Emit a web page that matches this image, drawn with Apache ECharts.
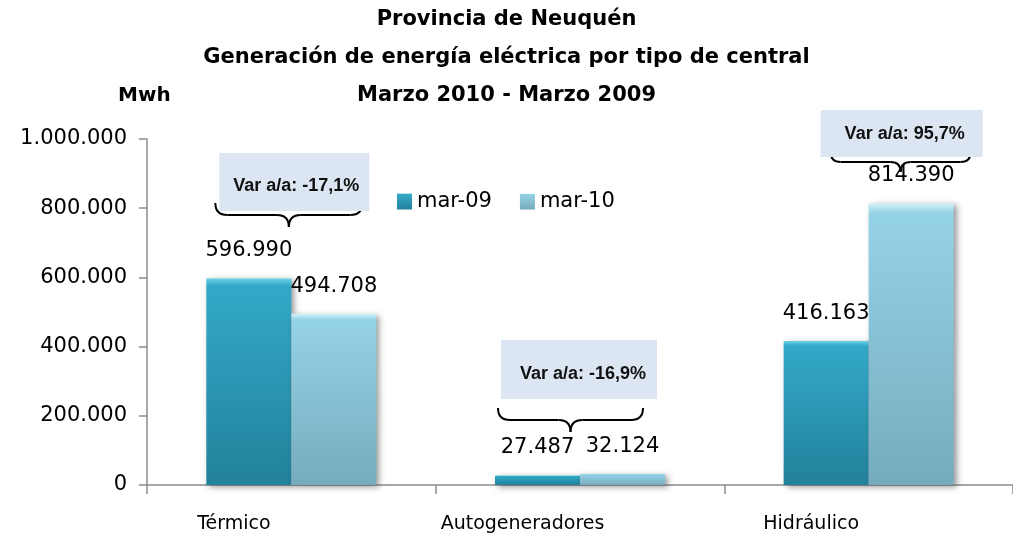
<!DOCTYPE html>
<html>
<head>
<meta charset="utf-8">
<script src="https://cdn.jsdelivr.net/npm/echarts@6/dist/echarts.min.js"></script>
<style>
  html, body { margin: 0; padding: 0; background: #fff; }
  #chart { width: 1013px; height: 537px; }
</style>
</head>
<body>
<div id="chart"></div>
<script>
// datos
const categories = ['Térmico', 'Autogeneradores', 'Hidráulico'];
const seriesNames = ['mar-09', 'mar-10'];
const mar09 = [596990, 27487, 416163];
const mar10 = [494708, 32124, 814390];
const varTexts = ['Var a/a: -17,1%', 'Var a/a: -16,9%', 'Var a/a: 95,7%'];

function fmt(v) {
  return String(v).replace(/\B(?=(\d{3})+(?!\d))/g, '.');
}

const numFont = 'DejaVu Sans';

let chartDom = document.getElementById('chart');
let myChart = echarts.init(chartDom);

let option = {
  animation: false,
  title: [
    {
      text: 'Provincia de Neuquén\nGeneración de energía eléctrica por tipo de central\nMarzo 2010 - Marzo 2009',
      left: 'center',
      top: -4,
      textStyle: {
        fontFamily: 'DejaVu Sans',
        fontWeight: 'bold',
        fontSize: 21,
        lineHeight: 38,
        color: '#000'
      }
    },
    {
      text: 'Mwh',
      left: 113,
      top: 81,
      textStyle: {
        fontFamily: 'DejaVu Sans',
        fontWeight: 'bold',
        fontSize: 20,
        color: '#000'
      }
    }
  ],
  legend: {
    data: seriesNames,
    left: 392,
    top: 186,
    icon: 'rect',
    itemWidth: 15,
    itemHeight: 16,
    itemGap: 28,
    textStyle: { fontFamily: numFont, fontSize: 21, color: '#000' }
  },
  grid: {
    left: 147,
    top: 139,
    width: 873,
    height: 346
  },
  xAxis: {
    type: 'category',
    data: categories,
    axisLine: { lineStyle: { color: '#8c8c8c', width: 1.5 } },
    axisTick: { show: true, length: 9, lineStyle: { color: '#8c8c8c', width: 1.5 } },
    axisLabel: {
      fontFamily: numFont,
      fontSize: 19,
      color: '#000',
      margin: 30,
      padding: [0, 115, 0, 0]
    }
  },
  yAxis: {
    type: 'value',
    min: 0,
    max: 1000000,
    interval: 200000,
    splitLine: { show: false },
    axisLine: { show: true, lineStyle: { color: '#8c8c8c', width: 1.5 } },
    axisTick: { show: true, length: 8, lineStyle: { color: '#8c8c8c', width: 1.5 } },
    axisLabel: {
      fontFamily: numFont,
      fontSize: 21,
      color: '#000',
      margin: 20,
      formatter: fmt
    }
  },
  series: [
    {
      name: seriesNames[0],
      type: 'bar',
      data: mar09,
      barWidth: 85,
      barGap: '0%',
      itemStyle: {
        color: new echarts.graphic.LinearGradient(0, 0, 0, 1, [
          { offset: 0, color: '#6BD3EA' },
          { offset: 0.035, color: '#33A9C8' },
          { offset: 1, color: '#22819B' }
        ]),
        shadowBlur: 6,
        shadowColor: 'rgba(0,0,0,0.4)',
        shadowOffsetX: 3,
        shadowOffsetY: 2
      },
      label: {
        show: true,
        position: 'top',
        distance: 17,
        fontFamily: numFont,
        fontSize: 21,
        color: '#000',
        formatter: (p) => fmt(p.value)
      }
    },
    {
      name: seriesNames[1],
      type: 'bar',
      data: mar10,
      barWidth: 85,
      itemStyle: {
        color: new echarts.graphic.LinearGradient(0, 0, 0, 1, [
          { offset: 0, color: '#D2F2FA' },
          { offset: 0.035, color: '#95D3E6' },
          { offset: 1, color: '#76ABBF' }
        ]),
        shadowBlur: 6,
        shadowColor: 'rgba(0,0,0,0.4)',
        shadowOffsetX: 3,
        shadowOffsetY: 2
      },
      label: {
        show: true,
        position: 'top',
        distance: 17,
        fontFamily: numFont,
        fontSize: 21,
        color: '#000',
        formatter: (p) => fmt(p.value)
      }
    }
  ]
};

option && myChart.setOption(option);

// recuadros "Var a/a" con llave, ubicados respecto del centro de cada categoria
const boxLayout = [
  { box: [-72, 153, 150, 58], brace: [-76, 203, 147, 24], text: [5, 186] },
  { box: [-79, 340, 156, 59], brace: [-82, 408, 145, 24], text: [3, 374] },
  { box: [-48, 110, 162, 47], brace: [-38, 152, 140, 20], text: [36, 134] }
];

function brace(x, y, w, h) {
  const r = h / 2, m = x + w / 2;
  const st = { stroke: '#000', lineWidth: 2, fill: 'none' };
  const q = (x1, y1, cx, cy, x2, y2) => ({
    type: 'bezierCurve',
    shape: { x1: x1, y1: y1, cpx1: cx, cpy1: cy, x2: x2, y2: y2 },
    style: st
  });
  const l = (x1, y1, x2, y2) => ({
    type: 'line',
    shape: { x1: x1, y1: y1, x2: x2, y2: y2 },
    style: st
  });
  return {
    type: 'group',
    z: 11,
    children: [
      q(x, y, x, y + r, x + r, y + r),
      l(x + r, y + r, m - r, y + r),
      q(m - r, y + r, m, y + r, m, y + h),
      q(m, y + h, m, y + r, m + r, y + r),
      l(m + r, y + r, x + w - r, y + r),
      q(x + w - r, y + r, x + w, y + r, x + w, y)
    ]
  };
}

let graphics = [];
categories.forEach(function (c, i) {
  const cx = myChart.convertToPixel({ xAxisIndex: 0 }, c);
  const L = boxLayout[i];
  graphics.push({
    type: 'rect',
    shape: { x: cx + L.box[0], y: L.box[1], width: L.box[2], height: L.box[3] },
    style: { fill: '#DCE6F2' },
    z: 10
  });
  graphics.push(brace(cx + L.brace[0], L.brace[1], L.brace[2], L.brace[3]));
  graphics.push({
    type: 'text',
    x: cx + L.text[0],
    y: L.text[1],
    style: {
      text: varTexts[i],
      fontFamily: '"Liberation Sans Narrow", "Liberation Sans"',
      fontWeight: 'bold',
      fontSize: 18,
      fill: '#111',
      align: 'center',
      verticalAlign: 'middle'
    },
    z: 12
  });
});

myChart.setOption({ graphic: graphics });
</script>
</body>
</html>
